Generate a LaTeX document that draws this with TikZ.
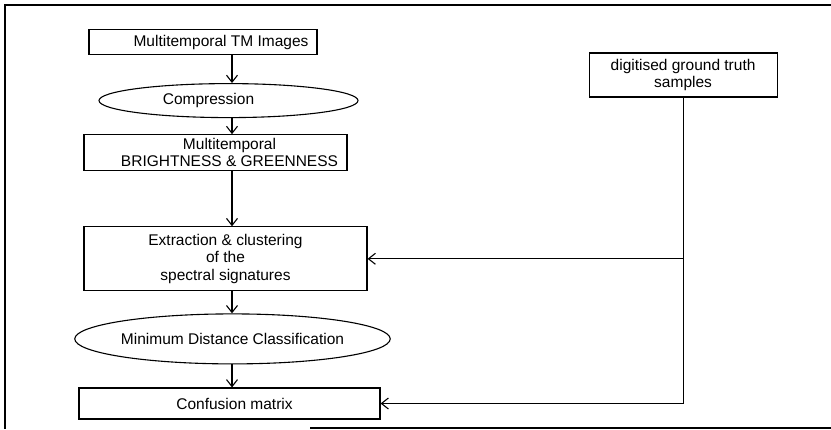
\documentclass[tikz,border=0pt]{standalone}
\usepackage{fontspec}
\setmainfont{Liberation Sans}
\usetikzlibrary{positioning,arrows.meta,shapes.geometric}

\begin{document}
\begin{tikzpicture}[x=1pt, y=1pt, line width=1.1pt,
    every node/.style={font=\fontsize{15.5}{17.5}\selectfont, align=center, inner sep=1pt},
    box/.style={draw, rectangle},
    oval/.style={draw, ellipse, inner sep=0pt},
    arr/.style={-{Straight Barb[length=7pt,width=11pt]}}]
    \useasboundingbox (0,0) rectangle (831,-429);
    % frame
    \draw (831,-5) -- (5,-5) -- (5,-429);
    \draw (310,-428) -- (831,-428);
    \coordinate (spine) at (232,0);
    \node (tm) [box, minimum width=228pt, minimum height=25pt] at (203,-42) {\hspace*{36pt}Multitemporal TM Images};
    \node (comp) [oval, minimum width=259pt, minimum height=34pt, below=28pt of tm, xshift=25.5pt] {Compression\hspace*{40pt}};
    \node (bg) [box, minimum width=263pt, minimum height=36pt, below=16pt of comp, xshift=-13pt] {\hspace*{28pt}Multitemporal\\\hspace*{28pt}BRIGHTNESS \& GREENNESS};
    \node (ext) [box, minimum width=283pt, minimum height=64pt, below=55pt of bg, xshift=10pt] {Extraction \& clustering\\of the\\spectral signatures};
    \node (mdc) [oval, minimum width=311pt, minimum height=50pt, below=22pt of ext, xshift=7pt] {Minimum Distance Classification};
    \node (conf) [box, minimum width=301pt, minimum height=31pt, below=23pt of mdc, xshift=-3pt] {\hspace*{10pt}Confusion matrix};
    \node (truth) [box, minimum width=188pt, minimum height=44pt, right=271pt of tm, yshift=-33pt] {digitised ground truth\\samples};
    % main chain
    \draw[arr] (tm.south -| spine) -- (comp.north -| spine);
    \draw[arr] (comp.south -| spine) -- (bg.north -| spine);
    \draw[arr] (bg.south -| spine) -- (ext.north -| spine);
    \draw[arr] (ext.south -| spine) -- (mdc.north -| spine);
    \draw[arr] (mdc.south -| spine) -- (conf.north -| spine);
    % ground truth feed
    \coordinate (split) at (truth.south |- ext.east);
    \coordinate (corner) at (truth.south |- conf.east);
    \draw[arr] (truth.south) -- (corner) -- (conf.east);
    \draw[arr] (split) -- (ext.east);
  \end{tikzpicture}
\end{document}
